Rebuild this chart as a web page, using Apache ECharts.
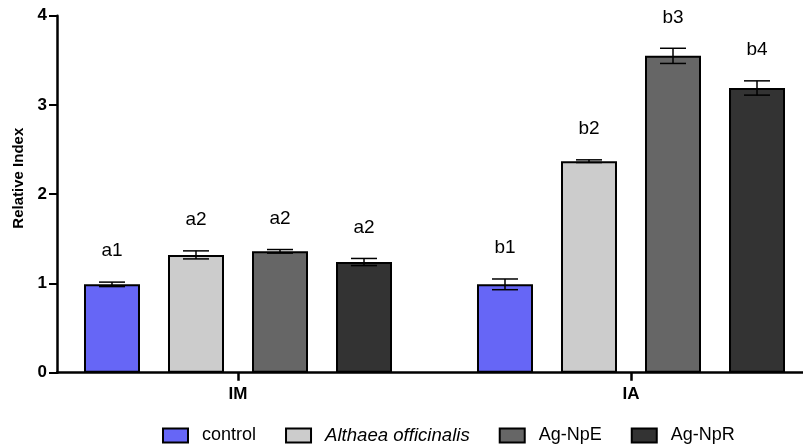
<!DOCTYPE html>
<html>
<head>
<meta charset="utf-8">
<script src="https://cdn.jsdelivr.net/npm/echarts@6/dist/echarts.min.js"></script>
<style>
  html, body { margin: 0; padding: 0; background: #fff; }
  #box { width: 803px; height: 445px; }
</style>
</head>
<body>
<div id="box"></div>
<script>
var groups = ['IM', 'IA'];
var treatments = ['control', 'Althaea officinalis', 'Ag-NpE', 'Ag-NpR'];
var means = [
  [0.99, 0.99],
  [1.32, 2.37],
  [1.36, 3.55],
  [1.24, 3.19]
];
var errors = [
  [0.025, 0.06],
  [0.045, 0.015],
  [0.02, 0.085],
  [0.04, 0.08]
];
var letters = [
  ['a1', 'b1'],
  ['a2', 'b2'],
  ['a2', 'b3'],
  ['a2', 'b4']
];
var yTicks = [0, 1, 2, 3, 4];

var colors = ['#6666f6', '#cccccc', '#666666', '#333333'];
var BAR_FRAC = 0.1425;

var myChart = echarts.init(document.getElementById('box'));

function errorSeries(k) {
  var data = groups.map(function (g, i) {
    return [i, means[k][i], errors[k][i]];
  });
  return {
    type: 'custom',
    xAxisIndex: 0,
    yAxisIndex: 0,
    z: 5,
    silent: true,
    encode: { x: 0, y: 1 },
    data: data,
    renderItem: function (params, api) {
      var i = api.value(0), m = api.value(1), e = api.value(2);
      var band = api.size([1, 0])[0];
      var bw = band * BAR_FRAC;
      var offset = (k - 1.5) * bw * 1.5;
      var top = api.coord([i, m + e]);
      var bot = api.coord([i, m - e]);
      var cx = top[0] + offset;
      var cap = 13;
      var st = { stroke: '#000', lineWidth: 1.5 };
      return {
        type: 'group',
        children: [
          { type: 'line', shape: { x1: cx, y1: top[1], x2: cx, y2: bot[1] }, style: st },
          { type: 'line', shape: { x1: cx - cap, y1: top[1], x2: cx + cap, y2: top[1] }, style: st },
          { type: 'line', shape: { x1: cx - cap, y1: bot[1], x2: cx + cap, y2: bot[1] }, style: st },
          {
            type: 'text',
            style: {
              x: cx, y: top[1] - 31,
              text: letters[k][i],
              fill: '#000',
              font: '19px "Liberation Sans", Arial, sans-serif',
              align: 'center',
              verticalAlign: 'middle'
            }
          }
        ]
      };
    }
  };
}

var series = [];
treatments.forEach(function (name, k) {
  series.push({
    name: name,
    type: 'bar',
    xAxisIndex: 0,
    yAxisIndex: 0,
    barWidth: (BAR_FRAC * 100) + '%',
    barGap: '50%',
    itemStyle: { color: colors[k], borderColor: '#000', borderWidth: 2 },
    data: means[k]
  });
});
treatments.forEach(function (name, k) {
  series.push(errorSeries(k));
});

var option = {
  animation: false,
  textStyle: { fontFamily: '"Liberation Sans", Arial, sans-serif' },
  grid: [
    { left: 41.5, right: -24.5, top: 15.7, bottom: 72.3, outerBoundsMode: 'none', containLabel: false },
    { left: 57, right: -24.5, top: 15.7, bottom: 72.3, outerBoundsMode: 'none', containLabel: false }
  ],
  legend: {
    data: treatments,
    left: 162,
    top: 426,
    padding: 0,
    itemWidth: 25,
    itemHeight: 14,
    itemGap: 29,
    icon: 'rect',
    textStyle: {
      fontSize: 18,
      color: '#000',
      padding: [0, 0, 0, 9],
      rich: { i: { fontStyle: 'italic', fontSize: 18.6, color: '#000' } }
    },
    formatter: function (name) {
      return name === 'Althaea officinalis' ? '{i|' + name + '}' : name;
    }
  },
  xAxis: [
    {
      type: 'category',
      gridIndex: 0,
      data: groups,
      axisLine: { show: false },
      axisTick: { show: true, alignWithLabel: true, length: 8, lineStyle: { color: '#000', width: 2.5 } },
      axisLabel: { color: '#000', fontSize: 17, fontWeight: 'bold', margin: 13 }
    },
    {
      type: 'value',
      gridIndex: 1,
      min: 0,
      max: 1,
      axisLine: { show: true, lineStyle: { color: '#000', width: 2.5 } },
      axisTick: { show: false },
      axisLabel: { show: false },
      splitLine: { show: false }
    }
  ],
  yAxis: [
    {
      type: 'value',
      gridIndex: 0,
      min: 0,
      max: 4,
      show: false
    },
    {
      type: 'value',
      gridIndex: 1,
      min: yTicks[0],
      max: yTicks[yTicks.length - 1],
      interval: 1,
      name: 'Relative Index',
      nameLocation: 'middle',
      nameGap: 25,
      nameTextStyle: { color: '#000', fontSize: 15, fontWeight: 'bold', padding: [0, 0, 0, 32] },
      axisLine: { show: true, lineStyle: { color: '#000', width: 2.5 } },
      axisTick: { show: true, length: 8, lineStyle: { color: '#000', width: 2 } },
      axisLabel: { color: '#000', fontSize: 17, fontWeight: 'bold', margin: 10 },
      splitLine: { show: false }
    }
  ],
  series: series
};
myChart.setOption(option);
</script>
</body>
</html>
